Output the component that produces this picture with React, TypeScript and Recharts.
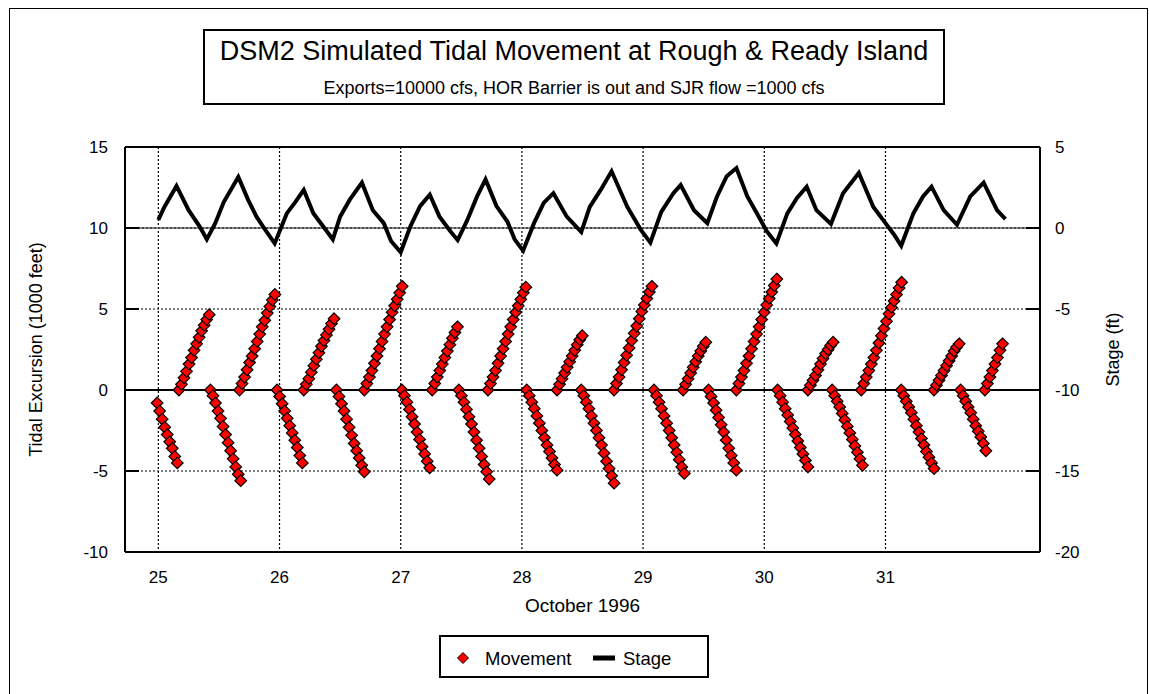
import {
  CartesianGrid,
  ComposedChart,
  Line,
  ReferenceLine,
  Scatter,
  XAxis,
  YAxis,
} from "recharts";

const dayTicks = [25, 26, 27, 28, 29, 30, 31];
const movementTicks = [-10, -5, 0, 5, 10, 15];
const stageTicks = [-20, -15, -10, -5, 0, 5];

// stage (ft) at Rough & Ready Island, read at the turning points of the trace
const stagePoints: [number, number][] = [
  [25.0, 0.5], [25.05, 1.3], [25.15, 2.6], [25.25, 1.1], [25.34, 0.1],
  [25.4, -0.7], [25.47, 0.3], [25.54, 1.6], [25.66, 3.15], [25.74, 1.75],
  [25.81, 0.7], [25.89, -0.2], [25.96, -0.95], [26.06, 0.9], [26.13, 1.6],
  [26.2, 2.35], [26.28, 0.9], [26.35, 0.2], [26.44, -0.7], [26.5, 0.7],
  [26.58, 1.75], [26.68, 2.8], [26.77, 1.1], [26.86, 0.3], [26.92, -0.8],
  [27.0, -1.5], [27.08, 0.1], [27.16, 1.35], [27.24, 2.05], [27.32, 0.7],
  [27.41, -0.2], [27.47, -0.75], [27.55, 0.5], [27.63, 1.95], [27.7, 3.0],
  [27.79, 1.35], [27.88, 0.4], [27.94, -0.7], [28.01, -1.4], [28.1, 0.3],
  [28.18, 1.55], [28.26, 2.15], [28.37, 0.7], [28.49, -0.25], [28.56, 1.3],
  [28.65, 2.35], [28.74, 3.5], [28.87, 1.3], [28.98, -0.1], [29.06, -0.9],
  [29.15, 1.0], [29.25, 2.15], [29.31, 2.65], [29.42, 1.1], [29.53, 0.3],
  [29.61, 1.95], [29.69, 3.2], [29.77, 3.7], [29.86, 1.95], [29.94, 0.9],
  [30.02, -0.2], [30.1, -0.95], [30.19, 0.9], [30.27, 1.85], [30.35, 2.55],
  [30.43, 1.1], [30.55, 0.25], [30.65, 2.15], [30.78, 3.4], [30.9, 1.3],
  [30.98, 0.5], [31.07, -0.4], [31.13, -1.1], [31.23, 0.9], [31.31, 1.95],
  [31.38, 2.55], [31.48, 1.1], [31.59, 0.2], [31.7, 1.95], [31.81, 2.8],
  [31.92, 1.1], [31.99, 0.55],
];

// tidal excursion (1000 ft), half-hourly output, one run per flood / ebb
const SAMPLE = 1 / 48;
const movementRuns: { start: number; values: number[] }[] = [
  { start: 24.99, values: [-0.8, -1.3, -1.8, -2.3, -2.75, -3.2, -3.6, -4.1, -4.5] },
  { start: 25.17, values: [0, 0.35, 0.75, 1.15, 1.6, 2.0, 2.45, 2.85, 3.25, 3.65, 4.0, 4.35, 4.65] },
  { start: 25.43, values: [0, -0.35, -0.8, -1.3, -1.75, -2.25, -2.75, -3.25, -3.75, -4.25, -4.75, -5.2, -5.6] },
  { start: 25.67, values: [0, 0.4, 0.8, 1.25, 1.7, 2.1, 2.55, 3.0, 3.45, 3.9, 4.3, 4.75, 5.15, 5.55, 5.9] },
  { start: 25.98, values: [0, -0.4, -0.85, -1.3, -1.75, -2.2, -2.65, -3.1, -3.55, -4.05, -4.5] },
  { start: 26.2, values: [0, 0.35, 0.7, 1.1, 1.5, 1.9, 2.3, 2.7, 3.05, 3.4, 3.75, 4.1, 4.4] },
  { start: 26.47, values: [0, -0.4, -0.85, -1.3, -1.8, -2.3, -2.8, -3.3, -3.75, -4.2, -4.65, -5.05] },
  { start: 26.7, values: [0, 0.4, 0.8, 1.2, 1.65, 2.1, 2.55, 3.0, 3.45, 3.9, 4.35, 4.8, 5.2, 5.6, 6.0, 6.4] },
  { start: 27.01, values: [0, -0.35, -0.75, -1.2, -1.65, -2.1, -2.6, -3.05, -3.5, -3.95, -4.4, -4.8] },
  { start: 27.26, values: [0, 0.4, 0.8, 1.2, 1.6, 2.0, 2.4, 2.8, 3.2, 3.55, 3.9] },
  { start: 27.48, values: [0, -0.35, -0.75, -1.2, -1.65, -2.1, -2.6, -3.1, -3.6, -4.1, -4.6, -5.05, -5.5] },
  { start: 27.72, values: [0, 0.4, 0.8, 1.2, 1.65, 2.1, 2.55, 3.0, 3.45, 3.9, 4.35, 4.8, 5.2, 5.6, 6.0, 6.35] },
  { start: 28.04, values: [0, -0.35, -0.75, -1.15, -1.6, -2.05, -2.5, -2.95, -3.4, -3.8, -4.2, -4.6, -4.95] },
  { start: 28.29, values: [0, 0.35, 0.7, 1.05, 1.4, 1.75, 2.1, 2.45, 2.8, 3.1, 3.35] },
  { start: 28.49, values: [0, -0.35, -0.75, -1.15, -1.6, -2.05, -2.5, -2.95, -3.4, -3.9, -4.4, -4.85, -5.3, -5.75] },
  { start: 28.76, values: [0, 0.4, 0.8, 1.25, 1.7, 2.15, 2.6, 3.05, 3.5, 3.95, 4.4, 4.85, 5.25, 5.65, 6.05, 6.4] },
  { start: 29.09, values: [0, -0.35, -0.75, -1.15, -1.6, -2.05, -2.5, -2.95, -3.4, -3.85, -4.3, -4.75, -5.15] },
  { start: 29.33, values: [0, 0.35, 0.7, 1.05, 1.4, 1.75, 2.1, 2.4, 2.7, 2.95] },
  { start: 29.54, values: [0, -0.4, -0.8, -1.25, -1.7, -2.15, -2.6, -3.1, -3.6, -4.05, -4.5, -4.95] },
  { start: 29.77, values: [0, 0.4, 0.8, 1.2, 1.65, 2.1, 2.55, 3.0, 3.45, 3.9, 4.35, 4.8, 5.25, 5.65, 6.05, 6.45, 6.85] },
  { start: 30.11, values: [0, -0.35, -0.75, -1.15, -1.55, -1.95, -2.35, -2.75, -3.15, -3.55, -3.95, -4.35, -4.75] },
  { start: 30.36, values: [0, 0.3, 0.6, 0.9, 1.25, 1.6, 1.95, 2.25, 2.5, 2.75, 2.95] },
  { start: 30.56, values: [0, -0.35, -0.7, -1.05, -1.45, -1.85, -2.25, -2.65, -3.05, -3.45, -3.85, -4.25, -4.65] },
  { start: 30.8, values: [0, 0.4, 0.8, 1.2, 1.6, 2.0, 2.45, 2.9, 3.35, 3.8, 4.25, 4.7, 5.1, 5.5, 5.9, 6.3, 6.65] },
  { start: 31.13, values: [0, -0.35, -0.7, -1.05, -1.4, -1.8, -2.2, -2.6, -3.0, -3.4, -3.8, -4.15, -4.5, -4.85] },
  { start: 31.4, values: [0, 0.3, 0.6, 0.9, 1.2, 1.5, 1.8, 2.1, 2.4, 2.65, 2.85] },
  { start: 31.62, values: [0, -0.35, -0.7, -1.05, -1.4, -1.8, -2.2, -2.55, -2.9, -3.3, -3.75] },
  { start: 31.82, values: [0, 0.4, 0.8, 1.2, 1.6, 2.0, 2.45, 2.85] },
];

const stageData = stagePoints.map(([t, v]) => ({ t, v }));
const movementData = movementRuns.flatMap((run) =>
  run.values.map((v, i) => ({ t: run.start + i * SAMPLE, v }))
);

const FONT = "Arial, 'Liberation Sans', sans-serif";

function Diamond(props: any) {
  const { cx, cy } = props;
  if (cx == null || cy == null) return null;
  const r = 5.8;
  return (
    <polygon
      points={`${cx},${cy - r} ${cx + r},${cy} ${cx},${cy + r} ${cx - r},${cy}`}
      fill="#ff0000"
      stroke="#000"
      strokeWidth={1.2}
    />
  );
}

export default function App() {
  return (
    <div
      style={{
        position: "absolute",
        left: 0,
        top: 0,
        width: 1149,
        height: 694,
        background: "#fff",
        fontFamily: FONT,
        overflow: "hidden",
      }}
    >
      <ComposedChart
        width={1149}
        height={694}
        margin={{ top: 147, right: 0, bottom: 112, left: 0 }}
      >
        <CartesianGrid
          yAxisId="mv"
          stroke="#000"
          strokeDasharray="2 2"
          strokeWidth={1.2}
        />
        <XAxis
          dataKey="t"
          type="number"
          domain={[24.725, 32.275]}
          ticks={dayTicks}
          allowDataOverflow
          height={30}
          tickLine={false}
          tickSize={0}
          tickMargin={19}
          axisLine={{ stroke: "#000", strokeWidth: 2 }}
          tick={{ fill: "#000", fontSize: 17, fontFamily: FONT }}
        />
        <YAxis
          yAxisId="mv"
          orientation="left"
          width={125}
          domain={[-10, 15]}
          ticks={movementTicks}
          allowDataOverflow
          tickSize={-14}
          tickMargin={31}
          axisLine={{ stroke: "#000", strokeWidth: 2 }}
          tickLine={{ stroke: "#000", strokeWidth: 2 }}
          tick={{ fill: "#000", fontSize: 17, fontFamily: FONT }}
        />
        <YAxis
          yAxisId="st"
          orientation="right"
          width={109}
          domain={[-20, 5]}
          ticks={stageTicks}
          allowDataOverflow
          tickSize={-14}
          tickMargin={29}
          axisLine={{ stroke: "#000", strokeWidth: 2 }}
          tickLine={{ stroke: "#000", strokeWidth: 2 }}
          tick={{ fill: "#000", fontSize: 17, fontFamily: FONT }}
        />
        <ReferenceLine yAxisId="st" y={0} stroke="#8c8c8c" strokeWidth={2} />
        <ReferenceLine
          yAxisId="st"
          y={0}
          stroke="#000"
          strokeDasharray="2 2"
          strokeWidth={1}
        />
        <ReferenceLine yAxisId="mv" y={0} stroke="#000" strokeWidth={2} />
        <ReferenceLine yAxisId="mv" y={15} stroke="#000" strokeWidth={2} />
        <Scatter
          name="Movement"
          data={movementData}
          dataKey="v"
          yAxisId="mv"
          shape={Diamond}
          isAnimationActive={false}
        />
        <Line
          name="Stage"
          data={stageData}
          dataKey="v"
          yAxisId="st"
          type="linear"
          stroke="#000"
          strokeWidth={4}
          dot={false}
          activeDot={false}
          isAnimationActive={false}
        />
      </ComposedChart>

      <svg
        width={1149}
        height={694}
        style={{ position: "absolute", left: 0, top: 0, pointerEvents: "none" }}
        fontFamily={FONT}
      >
        <rect x={9.5} y={8.5} width={1138} height={700} fill="none" stroke="#000" strokeWidth={1} />
        <rect x={204} y={30} width={740} height={74} fill="#fff" stroke="#000" strokeWidth={2} />
        <text x={574} y={59.5} textAnchor="middle" fontSize={27} fill="#000">
          DSM2 Simulated Tidal Movement at Rough &amp; Ready Island
        </text>
        <text x={574} y={94} textAnchor="middle" fontSize={18} fill="#000">
          Exports=10000 cfs, HOR Barrier is out and SJR flow =1000 cfs
        </text>
        <text x={582.5} y={612} textAnchor="middle" fontSize={19} fill="#000">
          October 1996
        </text>
        <text
          transform="translate(42,349.5) rotate(-90)"
          textAnchor="middle"
          fontSize={18}
          fill="#000"
        >
          Tidal Excursion (1000 feet)
        </text>
        <text
          transform="translate(1119,349.5) rotate(-90)"
          textAnchor="middle"
          fontSize={18}
          fill="#000"
        >
          Stage (ft)
        </text>
        <rect x={440} y={636} width={268} height={41} fill="#fff" stroke="#000" strokeWidth={2} />
        <polygon points="463,652.5 468.5,658 463,663.5 457.5,658" fill="#ff0000" stroke="#000" strokeWidth={1} />
        <text x={485} y={664.5} fontSize={18.5} fill="#000">
          Movement
        </text>
        <rect x={593} y={655.5} width={22} height={5} fill="#000" />
        <text x={623} y={664.5} fontSize={18.5} fill="#000">
          Stage
        </text>
      </svg>
    </div>
  );
}
